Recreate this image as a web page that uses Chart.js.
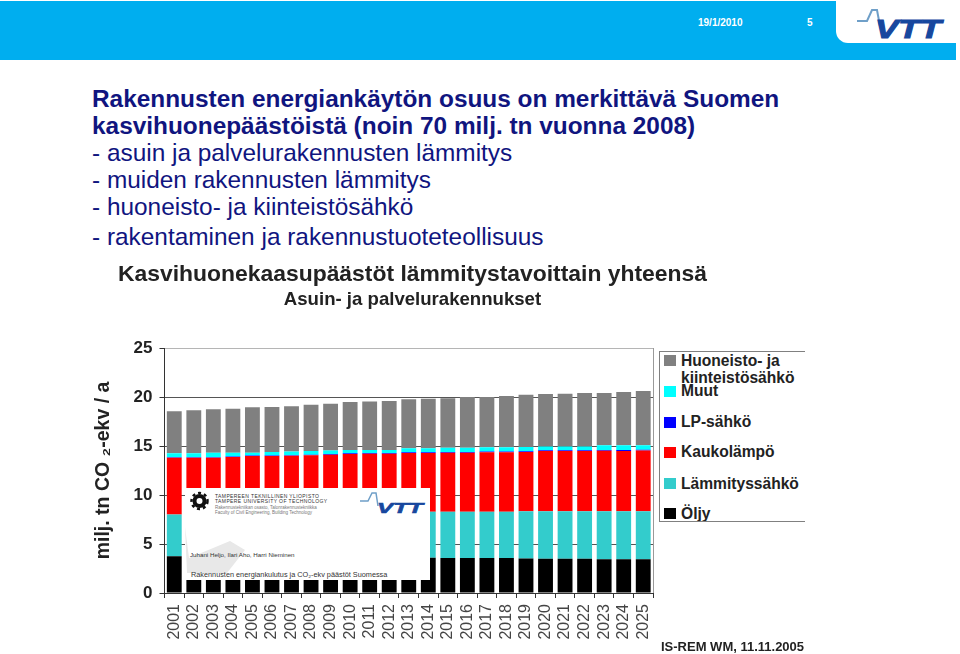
<!DOCTYPE html>
<html>
<head>
<meta charset="utf-8">
<script src="https://cdn.jsdelivr.net/npm/chart.js@4"></script>
<style>
  html, body { margin: 0; padding: 0; background: #fff; }
  body { width: 960px; height: 654px; position: relative; overflow: hidden; font-family: "Liberation Sans", Arial, sans-serif; }
  .abs { position: absolute; white-space: nowrap; }
  #band { left: 0; top: 1px; width: 956px; height: 59px; background: #00aeef; }
  #notch { left: 836px; top: 0; width: 120px; height: 43px; background: #fff; border-bottom-left-radius: 12px; }
  #slide-text div { position: absolute; left: 92px; white-space: nowrap; color: #10157f; font-size: 24.4px; }
  #slide-text .head { font-weight: bold; }
  #chart-wrap { position: absolute; left: 0; top: 260px; width: 824px; height: 394px; }
  #legend { left: 659px; top: 351px; width: 146px; height: 171px; border: 1px solid #808080; border-right: none; background: #fff; box-sizing: border-box; overflow: hidden; }
  #legend div { position: absolute; left: 21px; font-weight: bold; font-size: 15.6px; line-height: 17px; color: #222; white-space: nowrap; }
  #legend i { position: absolute; left: 4px; width: 12px; height: 11px; display: block; }
  #cover { left: 185px; top: 488px; width: 245px; height: 92px; background: #fff; overflow: hidden; }
  #cover div { position: absolute; white-space: nowrap; color: #333; }
</style>
</head>
<body>
<div class="abs" id="band"></div>
<div class="abs" id="notch"></div>
<div class="abs" style="left:698px;top:17px;color:#fff;font-size:10px;font-weight:bold">19/1/2010</div>
<div class="abs" style="left:807px;top:17px;color:#fff;font-size:10px;font-weight:bold">5</div>
<svg class="abs" style="left:855px;top:6px" width="90" height="36" viewBox="0 0 90 36">
  <polyline points="2,15 12,15 17,4 22,4 25,20" fill="none" stroke="#6f9fc8" stroke-width="2"/>
  <text x="20" y="32" font-family="Liberation Sans" font-weight="bold" font-style="italic" font-size="26" textLength="66" lengthAdjust="spacingAndGlyphs" fill="#17479e" stroke="#17479e" stroke-width="1">VTT</text>
</svg>

<div id="slide-text">
  <div class="head" style="top:85px">Rakennusten energiankäytön osuus on merkittävä Suomen</div>
  <div class="head" style="top:112px">kasvihuonepäästöistä (noin 70 milj. tn vuonna 2008)</div>
  <div style="top:139px">- asuin ja palvelurakennusten lämmitys</div>
  <div style="top:166px">- muiden rakennusten lämmitys</div>
  <div style="top:193px">- huoneisto- ja kiinteistösähkö</div>
  <div style="top:223px">- rakentaminen ja rakennustuoteteollisuus</div>
</div>

<div id="chart-wrap"><canvas id="chart"></canvas></div>

<div class="abs" id="legend"></div>

<div class="abs" id="cover">
  <svg style="position:absolute;left:0;top:0" width="245" height="92">
    <polygon points="0,39 4,70 45,53 60,62 42,85 2,85" fill="#e8e8e8"/>
    <circle cx="14.5" cy="13" r="5" fill="none" stroke="#111" stroke-width="4"/>
    <circle cx="14.5" cy="13" r="8" fill="none" stroke="#111" stroke-width="2.5" stroke-dasharray="3 3"/>
    <polyline points="175,13 183,13 187,5 191,5 193,18" fill="none" stroke="#6f9fc8" stroke-width="1.5"/>
    <text x="192" y="25" font-family="Liberation Sans" font-weight="bold" font-style="italic" font-size="15.5" textLength="46" lengthAdjust="spacingAndGlyphs" fill="#17479e" stroke="#17479e" stroke-width=".6">VTT</text>
  </svg>
  <div style="left:30px;top:5px;font-size:5px;letter-spacing:.4px">TAMPEREEN TEKNILLINEN YLIOPISTO</div>
  <div style="left:30px;top:10px;font-size:5px;letter-spacing:.4px">TAMPERE UNIVERSITY OF TECHNOLOGY</div>
  <div style="left:30px;top:17px;font-size:4.5px;color:#777">Rakennustekniikan osasto, Talonrakennustekniikka</div>
  <div style="left:30px;top:22px;font-size:4.5px;color:#777">Faculty of Civil Engineering, Building Technology</div>
  <div style="left:5px;top:63px;font-size:6.2px">Juhani Heljo, Ilari Aho, Harri Nieminen</div>
  <div style="left:6px;top:82px;font-size:7.3px">Rakennusten energiankulutus ja CO₂-ekv päästöt Suomessa</div>
</div>

<div class="abs" style="left:661px;top:639px;font-size:13px;font-weight:bold;color:#222">IS-REM WM, 11.11.2005</div>

<script>
// ── values (milj. tn CO2-ekv / a) ──
const years = ["2001","2002","2003","2004","2005","2006","2007","2008","2009","2010","2011","2012","2013","2014","2015","2016","2017","2018","2019","2020","2021","2022","2023","2024","2025"];
const oljy = [3.75,3.74,3.73,3.72,3.71,3.70,3.69,3.68,3.67,3.66,3.65,3.64,3.62,3.60,3.57,3.57,3.57,3.57,3.53,3.50,3.50,3.50,3.44,3.44,3.44];
const lammityssahko = [4.25,4.29,4.32,4.36,4.39,4.43,4.46,4.50,4.53,4.57,4.60,4.63,4.66,4.70,4.73,4.73,4.73,4.73,4.80,4.83,4.83,4.83,4.89,4.89,4.89];
const kaukolampo = [5.80,5.77,5.75,5.80,5.88,5.85,5.85,5.87,5.90,5.95,5.95,5.93,6.01,5.99,6.02,6.02,6.05,6.05,6.06,6.16,6.16,6.16,6.19,6.17,6.22];
const lpSahko = [0.05,0.05,0.05,0.05,0.05,0.05,0.05,0.05,0.08,0.08,0.08,0.08,0.08,0.08,0.08,0.08,0.08,0.08,0.08,0.08,0.08,0.08,0.08,0.08,0.08];
const muut = [0.40,0.40,0.45,0.37,0.27,0.36,0.40,0.40,0.37,0.34,0.32,0.32,0.39,0.39,0.43,0.43,0.44,0.44,0.43,0.39,0.39,0.39,0.47,0.49,0.44];
const huoneisto = [4.29,4.39,4.44,4.50,4.65,4.59,4.60,4.70,4.75,4.90,4.95,5.00,5.00,5.07,5.03,5.17,5.13,5.23,5.34,5.34,5.38,5.44,5.33,5.43,5.53];
const yTicks = [0,5,10,15,20,25];

const datasets = [
  { label: "Öljy", data: oljy, backgroundColor: "#000000" },
  { label: "Lämmityssähkö", data: lammityssahko, backgroundColor: "#33cccc" },
  { label: "Kaukolämpö", data: kaukolampo, backgroundColor: "#ff0000" },
  { label: "LP-sähkö", data: lpSahko, backgroundColor: "#0000ff" },
  { label: "Muut", data: muut, backgroundColor: "#00ffff" },
  { label: "Huoneisto- ja kiinteistösähkö", data: huoneisto, backgroundColor: "#808080" },
];

// legend rows, top to bottom
const legendRows = [
  { name: "Huoneisto- ja<br>kiinteistösähkö", set: 5, y: 0, box: 3 },
  { name: "Muut", set: 4, y: 30, box: 34 },
  { name: "LP-sähkö", set: 3, y: 61, box: 65 },
  { name: "Kaukolämpö", set: 2, y: 91, box: 95 },
  { name: "Lämmityssähkö", set: 1, y: 123, box: 126 },
  { name: "Öljy", set: 0, y: 153, box: 156 },
];
const legendEl = document.getElementById("legend");
legendRows.forEach(r => {
  const box = document.createElement("i");
  box.style.top = r.box + "px";
  box.style.background = datasets[r.set].backgroundColor;
  legendEl.appendChild(box);
  const txt = document.createElement("div");
  txt.style.top = r.y + "px";
  txt.innerHTML = r.name;
  legendEl.appendChild(txt);
});

// plot frame on the right side, the reference has it in grey
const rightEdge = {
  id: "rightEdge",
  afterDatasetsDraw(chart) {
    const { ctx, chartArea: a } = chart;
    ctx.save();
    ctx.strokeStyle = "#9a9a9a";
    ctx.lineWidth = 1;
    ctx.beginPath();
    ctx.moveTo(a.right + 0.5, a.top);
    ctx.lineTo(a.right + 0.5, a.bottom);
    ctx.stroke();
    ctx.restore();
  },
};

// the headings sit centred over plot + legend, not over the padded box
const headingShift = {
  id: "headingShift",
  afterLayout(chart) {
    chart.boxes.filter(b => b.position === "top").forEach(b => { b.right += 80; });
  },
};

new Chart(document.getElementById("chart"), {
  type: "bar",
  data: { labels: years, datasets },
  plugins: [rightEdge, headingShift],
  options: {
    responsive: true,
    maintainAspectRatio: false,
    animation: false,
    layout: { padding: { left: 92, right: 171, top: 0, bottom: 0 } },
    datasets: { bar: { barPercentage: 0.76, categoryPercentage: 1 } },
    plugins: {
      legend: { display: false },
      tooltip: { enabled: false },
      title: {
        display: true,
        text: "Kasvihuonekaasupäästöt lämmitystavoittain yhteensä",
        color: "#222",
        font: { family: "Liberation Sans", size: 22.9, weight: "bold" },
        padding: { top: 1, bottom: 0 },
      },
      subtitle: {
        display: true,
        text: "Asuin- ja palvelurakennukset",
        color: "#222",
        font: { family: "Liberation Sans", size: 18.6, weight: "bold" },
        padding: { top: 0, bottom: 37.2 },
      },
    },
    scales: {
      x: {
        stacked: true,
        afterFit: s => { s.height = 61; },
        border: { color: "#333" },
        grid: { drawOnChartArea: false, drawTicks: true, tickLength: 5, color: "#333" },
        ticks: {
          color: "#444",
          font: { family: "Liberation Sans", size: 16 },
          minRotation: 90,
          maxRotation: 90,
          autoSkip: false,
          padding: 6,
        },
      },
      y: {
        stacked: true,
        min: 0,
        max: 25,
        afterFit: s => { s.width = 72.5; },
        afterBuildTicks: s => { s.ticks = yTicks.map(v => ({ value: v })); },
        border: { color: "#333" },
        grid: {
          color: c => (c.tick.value === 25 ? "#b5b5b5" : "#555"),
          tickLength: 5,
          tickColor: "#333",
        },
        title: {
          display: true,
          text: "milj. tn CO ₂-ekv / a",
          color: "#222",
          font: { family: "Liberation Sans", size: 19.5, weight: "bold" },
          padding: 0,
        },
        ticks: {
          color: "#222",
          font: { family: "Liberation Sans", size: 17, weight: "bold" },
          padding: 7,
        },
      },
    },
  },
});
</script>
</body>
</html>
